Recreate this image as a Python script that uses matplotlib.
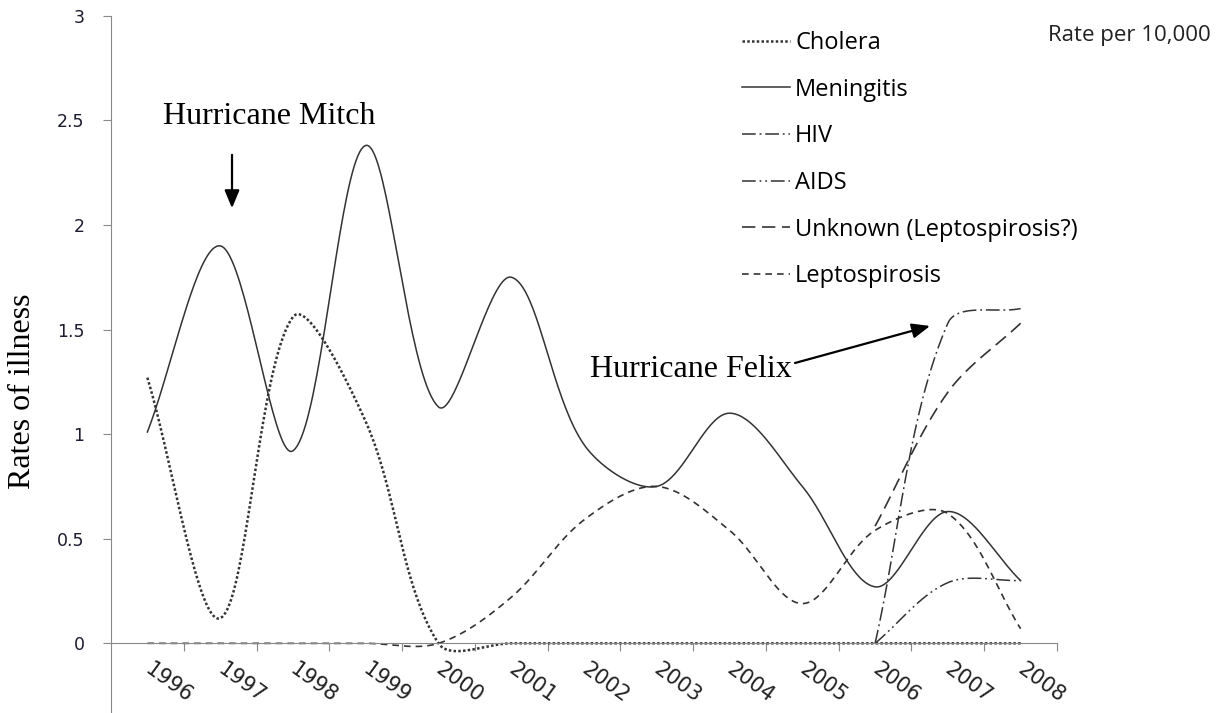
import numpy as np
import matplotlib
matplotlib.use("Agg")
import matplotlib.pyplot as plt
from matplotlib.lines import Line2D

nan = np.nan

years = [str(y) for y in range(1996, 2009)]
cholera = [1.27, 0.12, 1.56, 1.06, 0, 0, 0, 0, 0, 0, 0, 0, 0]
meningitis = [1.01, 1.90, 0.92, 2.38, 1.13, 1.75, 0.95, 0.75, 1.10, 0.75, 0.27, 0.63, 0.30]
hiv = [nan] * 10 + [0, 1.53, 1.60]
aids = [nan] * 10 + [0, 0.29, 0.30]
unknown = [nan] * 10 + [0.56, 1.20, 1.53]
lepto = [0, 0, 0, 0, 0, 0.22, 0.59, 0.75, 0.54, 0.19, 0.54, 0.62, 0.07]

names = ["Cholera", "Meningitis", "HIV", "AIDS", "Unknown (Leptospirosis?)", "Leptospirosis"]
series = [cholera, meningitis, hiv, aids, unknown, lepto]
styles = [
    dict(lw=1.8, dashes=(1.0, 0.9)),
    dict(lw=1.1, linestyle="-"),
    dict(lw=1.1, dashes=(9, 2.5, 1.2, 2.5)),
    dict(lw=1.1, dashes=(9, 2.5, 1.2, 2.5, 1.2, 2.5)),
    dict(lw=1.2, dashes=(8, 4)),
    dict(lw=1.2, dashes=(4, 3)),
]
col = "#333333"

# pixel size of one unit on each axis, so the smoothing sees the chart's aspect
SX, SY = 72.77, 209.2


def smooth(x, y, n=40):
    # catmull-rom bezier, control arms weighted by neighbouring chord lengths
    x = np.asarray(x, float)
    y = np.asarray(y, float)
    ok = ~np.isnan(y)
    P = np.column_stack([x[ok] * SX, y[ok] * SY])
    m = len(P)
    cin = P.copy()
    cout = P.copy()
    for i in range(m):
        a = P[max(i - 1, 0)]
        b = P[min(i + 1, m - 1)]
        d = b - a
        dp = np.hypot(*(P[i] - a))
        dn = np.hypot(*(b - P[i]))
        tot = dp + dn
        cout[i] = P[i] + d / 3 * dn / tot
        cin[i] = P[i] - d / 3 * dp / tot
    t = np.linspace(0, 1, n)[:, None]
    out = []
    for i in range(m - 1):
        out.append((1 - t)**3 * P[i] + 3 * (1 - t)**2 * t * cout[i]
                   + 3 * (1 - t) * t**2 * cin[i + 1] + t**3 * P[i + 1])
    out = np.vstack(out)
    return out[:, 0] / SX, out[:, 1] / SY


fig = plt.figure(figsize=(12.26, 7.13), dpi=100)
ax = fig.add_axes([111 / 1226, 0, (1057 - 111) / 1226, 1 - 15.7 / 713])

xpos = np.arange(len(years))
for name, vals, st in zip(names, series, styles):
    sx, sy = smooth(xpos, vals)
    ax.plot(sx, sy, color=col, label=name, **st)

ax.set_xlim(-0.5, 12.5)
ax.set_ylim(-0.333, 3)
ax.set_yticks([0, 0.5, 1, 1.5, 2, 2.5, 3])
ax.set_yticklabels(["0", "0.5", "1", "1.5", "2", "2.5", "3"],
                   fontfamily="DejaVu Sans", fontsize=12.5, color="#1c1c30")
ax.tick_params(axis="y", length=6, color="#888888", pad=13)

ax.spines["top"].set_visible(False)
ax.spines["right"].set_visible(False)
ax.spines["left"].set_color("#888888")
ax.spines["bottom"].set_color("#888888")
ax.spines["bottom"].set_position(("data", 0))

ax.set_xticks(np.arange(0.5, 13, 1))
ax.set_xticklabels([])
ax.tick_params(axis="x", which="major", length=6, color="#888888")

# year labels, slanted, hanging below each category
for i, yr in enumerate(years):
    ax.annotate(yr, xy=(i, 0), xytext=(4, -11), textcoords="offset points",
                fontsize=15, color="#222222", ha="left", va="top",
                rotation=-36, rotation_mode="anchor")

fig.text(23 / 1226, 1 - 391 / 713, "Rates of illness", rotation=90,
         fontfamily="Liberation Serif", fontsize=23, ha="center", va="center")

fig.text(163 / 1226, 1 - 124 / 713, "Hurricane Mitch",
         fontfamily="Liberation Serif", fontsize=23, ha="left", va="baseline")
fig.text(590 / 1226, 1 - 377 / 713, "Hurricane Felix",
         fontfamily="Liberation Serif", fontsize=23, ha="left", va="baseline")

arrow = dict(arrowstyle="-|>,head_length=0.6,head_width=0.25", color="black",
             lw=1.6, mutation_scale=18, shrinkA=0, shrinkB=0)
ax.annotate("", xy=(1.163, 2.08), xytext=(1.163, 2.335), arrowprops=arrow)
ax.annotate("", xy=(10.755, 1.517), xytext=(8.9, 1.34), arrowprops=arrow)

fig.text(1048 / 1226, 1 - 35 / 713, "Rate per 10,000", fontfamily="Open Sans",
         fontsize=16, ha="left", va="center", color="#222222")

leg_handles = [Line2D([0], [0], color=col, **st) for st in styles]
ax.legend(leg_handles, names, loc="upper left", bbox_to_anchor=(742 / 1226, 1 - 31 / 713),
          bbox_transform=fig.transFigure, frameon=False,
          prop=dict(family="Open Sans", size=17),
          handlelength=2.05, handletextpad=0.2, labelspacing=0.96, borderpad=0,
          borderaxespad=0)

fig.savefig("out.png", dpi=100)
